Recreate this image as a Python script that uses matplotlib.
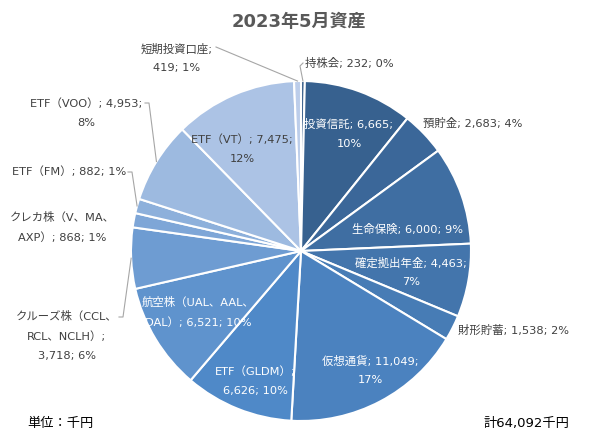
import matplotlib
matplotlib.use('Agg')
import matplotlib.pyplot as plt
import matplotlib.colors as mcolors
import numpy as np

# Latin in a Verdana-like face, CJK from Noto
plt.rcParams['font.family'] = ['DejaVu Sans', 'Noto Sans CJK JP']

# data (thousand yen), clockwise from 12 o'clock
names = ['持株会', '投資信託', '預貯金', '生命保険', '確定拠出年金', '財形貯蓄',
         '仮想通貨', 'ETF（GLDM）', '航空株（UAL、AAL、DAL）',
         'クルーズ株（CCL、RCL、NCLH）', 'クレカ株（V、MA、AXP）',
         'ETF（FM）', 'ETF（VOO）', 'ETF（VT）', '短期投資口座']
values = [232, 6665, 2683, 6000, 4463, 1538, 11049, 6626, 6521,
          3718, 868, 882, 4953, 7475, 419]

# label text as shown (line breaks like the original)
label_text = [
    '持株会; 232; 0%',
    '投資信託; 6,665;\n10%',
    '預貯金; 2,683; 4%',
    '生命保険; 6,000; 9%',
    '確定拠出年金; 4,463;\n7%',
    '財形貯蓄; 1,538; 2%',
    '仮想通貨; 11,049;\n17%',
    'ETF（GLDM）;\n6,626; 10%',
    '航空株（UAL、AAL、\nDAL）; 6,521; 10%',
    'クルーズ株（CCL、\nRCL、NCLH）;\n3,718; 6%',
    'クレカ株（V、MA、\nAXP）; 868; 1%',
    'ETF（FM）; 882; 1%',
    'ETF（VOO）; 4,953;\n8%',
    'ETF（VT）; 7,475;\n12%',
    '短期投資口座;\n419; 1%',
]

W, H = 589, 442
cx, cy, R = 301, H - 251, 170

# label layout in pixel coords (x, y from top, ha, text colour)
label_pos = [
    (305, 63, 'left', '#404040'),
    (349, 134, 'center', 'white'),
    (423, 123, 'left', '#404040'),
    (408, 229, 'center', 'white'),
    (411, 272, 'center', 'white'),
    (458, 330, 'left', '#404040'),
    (370, 370, 'center', 'white'),
    (255, 381, 'center', 'white'),
    (198, 312, 'center', 'white'),
    (67, 336, 'center', '#404040'),
    (62, 227, 'center', '#404040'),
    (126, 171, 'right', '#404040'),
    (86, 113, 'center', '#404040'),
    (242, 149, 'center', '#404040'),
    (177, 58, 'center', '#404040'),
]

# leader lines: slice index -> elbow points (pixel coords) ending at text
leaders = {
    0: [(300, 66), (303, 63)],
    14: [(216, 47)],
    11: [(132, 172), (128, 172)],
    12: [(149, 103), (145, 103)],
    9: [(123, 317), (119, 317)],
}

# blue gradient: dark -> mid -> light
stops = [mcolors.to_rgb('#335a86'), mcolors.to_rgb('#4f89c8'), mcolors.to_rgb('#bccdea')]
n = len(values)
colors = []
for i in range(n):
    t = i / (n - 1) * 2
    k = min(int(t), 1)
    f = t - k
    c = np.array(stops[k]) * (1 - f) + np.array(stops[k + 1]) * f
    colors.append(c)

fig = plt.figure(figsize=(W / 100, H / 100), dpi=100)
ax = fig.add_axes([0, 0, 1, 1])
wedges, _ = ax.pie(values, colors=colors, startangle=90, counterclock=False,
                   center=(cx, cy), radius=R, frame=True,
                   wedgeprops=dict(edgecolor='white', linewidth=1.5))
ax.set_xlim(0, W)
ax.set_ylim(0, H)
ax.set_aspect('equal')
ax.axis('off')

total = sum(values)
for i, (txt, (x, y, ha, col)) in enumerate(zip(label_text, label_pos)):
    ax.text(x, H - y, txt, ha=ha, va='center', fontsize=8.2, color=col,
            linespacing=2.05)

# leader lines from the slice edge
for i, pts in leaders.items():
    w = wedges[i]
    ang = np.deg2rad((w.theta1 + w.theta2) / 2)
    sx, sy = cx + R * np.cos(ang), cy + R * np.sin(ang)
    xs = [sx] + [p[0] for p in pts]
    ys = [sy] + [H - p[1] for p in pts]
    ax.plot(xs, ys, color='#a6a6a6', linewidth=0.8)

ax.text(299, H - 22, '2023年5月資産', ha='center', va='center', fontsize=13,
        fontweight='bold', color='#595959')
ax.text(27, H - 424, '単位：千円', ha='left', va='center', fontsize=9.5, color='black')
ax.text(569, H - 424, f'計{total:,}千円', ha='right', va='center', fontsize=9.5,
        color='black')

fig.savefig('out.png', dpi=100)
